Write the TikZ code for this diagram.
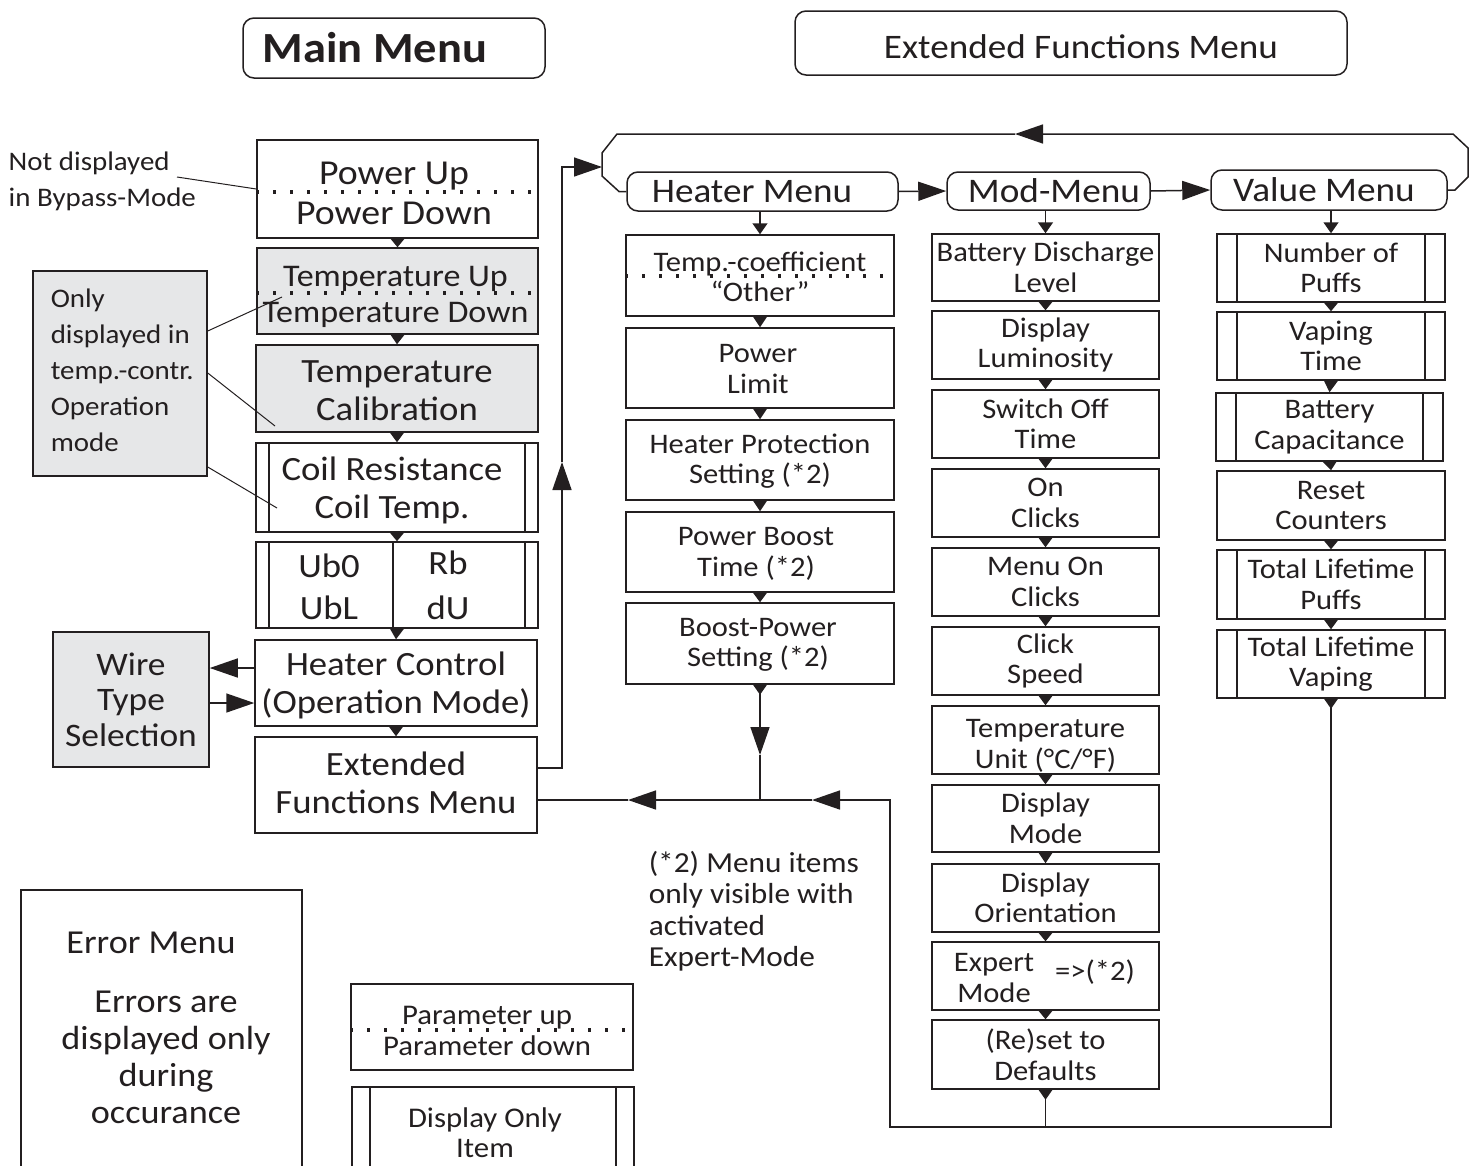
\documentclass[tikz,border=0pt]{standalone}
\usepackage{fontspec}
\setmainfont{Carlito}[FakeStretch=1.08]
\usetikzlibrary{arrows.meta,calc}
\definecolor{boxgray}{HTML}{E6E7E8}
\definecolor{ink}{HTML}{231F20}
\newcommand\fs[2]{\fontsize{#1}{#2}\selectfont}
\newcommand\ftri[2]{\fill[ink] ($(#1.south)+(-7,0)$) -- ($(#1.south)+(7,0)$) -- (#2.north) -- cycle;}
\newcommand\etri[1]{\fill[ink] ($(#1.south)+(-7,0)$) -- ($(#1.south)+(7,0)$) -- ($(#1.south)+(0,10)$) -- cycle;}
\begin{document}
\begin{tikzpicture}[x=1pt,y=-1pt,color=ink,line width=1.5pt,
  bx/.style={draw, inner sep=0pt, align=center},
  sz/.style 2 args={minimum width=#1pt, minimum height=#2pt},
  gr/.style={fill=boxgray},
  disp/.style={path picture={\draw[line width=1.3pt] ([xshift=#1pt]path picture bounding box.north west) -- ([xshift=#1pt]path picture bounding box.south west) ([xshift=-#1pt]path picture bounding box.north east) -- ([xshift=-#1pt]path picture bounding box.south east);}},
  hdr/.style={draw, rounded corners=11pt, inner sep=0pt, align=center},
  dots/.style={line width=3.2pt, dash pattern=on 3.2pt off 13.8pt},
  bigtip/.style={-{Triangle[width=19pt,length=28pt]}},
  smalltip/.style={-{Triangle[width=15pt,length=11pt]}},
  thin/.style={line width=1pt},
  mainf/.style={font=\fs{34}{38}},
  colf/.style={font=\fs{28.3}{30.5}},
  txt/.style={inner sep=0pt, align=center},
]
\useasboundingbox (0,0) rectangle (1480,1165);

% ---------- titles ----------
\node[hdr,sz={302}{60},font=\bfseries\fs{43}{46}] (mtitle) at (394,48) {Main Menu\hspace{38pt}};
\node[hdr,sz={552}{64}] (etitle) at (1071,43) {};
\node[txt,font=\fs{34.4}{36}] (etitlet) at (1081,47) {Extended Functions Menu};

% ---------- main column ----------
\node[bx,sz={281}{98}] (pu) at (397.5,189) {};
\draw[dots] (pu.west |- 0,192) -- (pu.east |- 0,192);
\node[txt,font=\fs{35}{40}] (put) at (394,193) {Power Up\\Power Down};
\node[bx,gr,sz={281}{86}] (td) at (397.5,291) {};
\draw[dots] (td.west |- 0,293) -- (td.east |- 0,293);
\node[txt,font=\fs{31.5}{36}] (tdt) at (395.5,297) {Temperature Up\\Temperature Down};
\node[bx,gr,sz={282}{87}] (tc) at (397,388.5) {};
\node[txt,mainf] (tct) at (397,391) {Temperature\\Calibration};
\node[bx,disp=13,sz={282}{89}] (coil) at (397,487.5) {};
\node[txt,mainf] (coilt) at (392,490) {Coil Resistance\\Coil Temp.};
\node[bx,disp=13,sz={282}{86}] (ub) at (397,585) {};
\draw (ub.north -| 393,0) -- (ub.south -| 393,0);
\node[font=\fs{34}{42},align=center] (ubl) at (329,587) {Ub0\\UbL};
\node[font=\fs{34}{45},align=center] (ubr) at (448,585) {Rb\\dU};
\node[bx,sz={282}{86}] (hc) at (396,683) {};
\node[txt,mainf] (hct) at (396,685) {Heater Control\\(Operation Mode)};
\node[bx,sz={282}{96}] (efm) at (396,785) {};
\node[txt,mainf] (efmt) at (396,783) {Extended\\Functions Menu};
\ftri{pu}{td}
\ftri{td}{tc}
\ftri{tc}{coil}
\ftri{coil}{ub}
\ftri{ub}{hc}
\ftri{hc}{efm}

% wire type
\node[bx,gr,sz={156}{135},font=\fs{32.8}{35.5}] (wire) at (131,699.5) {Wire\\Type\\Selection};
\draw[bigtip] (hc.west |- 0,668) -- (wire.east |- 0,668);
\draw[bigtip] (wire.east |- 0,703) -- (hc.west |- 0,703);

% annotations
\node[anchor=west,align=left,inner sep=0pt,font=\fs{26.8}{36}] (nd) at (8,181) {Not displayed\\in Bypass-Mode};
\draw[thin] (177,177) -- (pu.west |- 0,189);
\node[bx,gr,sz={174}{205}] (only) at (120,373.5) {};
\node[anchor=west,align=left,inner sep=0pt,font=\fs{26.8}{36}] (onlyt) at (50,370) {Only\\displayed in\\temp.-contr.\\Operation\\mode};
\draw[thin] (only.east |- 0,331) -- (282,297);
\draw[thin] (only.east |- 0,373) -- (275,426);
\draw[thin] (only.east |- 0,467) -- (277,508);

% ---------- headers of extended menu ----------
\node[hdr,sz={271}{39},font=\fs{34.4}{36}] (hm) at (762.5,191.5) {Heater Menu\hspace{21pt}};
\node[hdr,sz={203}{38},font=\fs{34.5}{36}] (mm) at (1048.5,191) {\hspace{11pt}Mod-Menu};
\node[hdr,sz={236}{40},font=\fs{34.5}{36}] (vm) at (1329,190) {Value Menu\hspace{10pt}};
\draw[bigtip] (hm.east) -- (mm.west);
\draw[bigtip] (mm.east) -- (vm.west);

% ---------- heater column ----------
\node[bx,sz={268}{81}] (tco) at (760,275.5) {};
\draw[dots] (tco.west |- 0,276) -- (tco.east |- 0,276);
\node[txt,colf] (tcot) at (760,277) {Temp.-coefficient\\“Other”};
\node[bx,sz={268}{80}] (pl) at (760,368) {};
\node[txt,colf] (plt) at (758,369) {Power\\Limit};
\node[bx,sz={268}{80}] (hps) at (760,460) {};
\node[txt,colf] (hpst) at (760,461) {Heater Protection\\Setting (*2)};
\node[bx,sz={268}{80}] (pbt) at (760,552) {};
\node[txt,colf] (pbtt) at (756,554) {Power Boost\\Time (*2)};
\node[bx,sz={268}{81}] (bps) at (760,643.5) {};
\node[txt,colf] (bpst) at (758,645) {Boost-Power\\Setting (*2)};
\draw[smalltip] (tco.north |- hm.south) -- (tco.north);
\ftri{tco}{pl}
\ftri{pl}{hps}
\ftri{hps}{pbt}
\ftri{pbt}{bps}

% ---------- mod column ----------
\node[bx,sz={227}{67},colf] (bdl) at (1045.5,267.5) {Battery Discharge\\Level};
\node[bx,sz={227}{68},colf] (dl) at (1045.5,345) {Display\\Luminosity};
\node[bx,sz={227}{68},colf] (sot) at (1045.5,424) {Switch Off\\Time};
\node[bx,sz={227}{68},colf] (onc) at (1045.5,503) {On\\Clicks};
\node[bx,sz={227}{68},colf] (moc) at (1045.5,582) {Menu On\\Clicks};
\node[bx,sz={227}{68},colf] (cs) at (1045.5,661) {Click\\Speed};
\node[bx,sz={227}{68}] (tu) at (1045.5,740) {};
\node[txt,colf] (tut) at (1045.5,746) {Temperature\\Unit (°C/°F)};
\node[bx,sz={227}{67},colf] (dm) at (1045.5,818.5) {Display\\Mode};
\node[bx,sz={227}{68},colf] (dor) at (1045.5,898) {Display\\Orientation};
\node[bx,sz={227}{68}] (exm) at (1045.5,976) {};
\node[colf,align=center] (exmt) at (994,978) {Expert\\Mode};
\node[colf] (exms) at (1095,972) {=>(*2)};
\node[bx,sz={227}{69},colf] (rd) at (1045.5,1054.5) {(Re)set to\\Defaults};
\draw[smalltip] (bdl.north |- mm.south) -- (bdl.north);
\ftri{bdl}{dl}
\ftri{dl}{sot}
\ftri{sot}{onc}
\ftri{onc}{moc}
\ftri{moc}{cs}
\ftri{cs}{tu}
\ftri{tu}{dm}
\ftri{dm}{dor}
\ftri{dor}{exm}
\ftri{exm}{rd}

% ---------- value column ----------
\node[bx,disp=20,sz={228}{68},colf] (nop) at (1331,268) {Number of\\Puffs};
\node[bx,disp=20,sz={228}{68},colf] (vt) at (1331,346) {Vaping\\Time};
\node[bx,disp=20,sz={227}{68},colf] (bc) at (1329.5,427) {Battery\\Capacitance};
\node[bx,sz={228}{69},colf] (rc) at (1331,505.5) {Reset\\Counters};
\node[bx,disp=20,sz={228}{69},colf] (tlp) at (1331,584.5) {Total Lifetime\\Puffs};
\node[bx,disp=20,sz={228}{68},colf] (tlv) at (1331,664) {Total Lifetime\\Vaping};
\draw[smalltip] (nop.north |- vm.south) -- (nop.north);
\ftri{nop}{vt}
\ftri{vt}{bc}
\ftri{bc}{rc}
\ftri{rc}{tlp}
\ftri{tlp}{tlv}

% ---------- loops ----------
\coordinate (jn) at (760,800);
\coordinate (dn) at (760,755);
\coordinate (ar1) at (812,800);
\coordinate (ar2) at (628,800);
\coordinate (bl) at (890,1127);
\coordinate (bl2) at (890,800);
\etri{bps}
\etri{tlv}
\etri{rd}
\draw[bigtip] (bps.south) -- (dn);
\draw (dn) -- (jn);
\draw[bigtip] (tlv.south) -- (tlv.south |- bl) -- (bl) -- (bl2) -- (ar1);
\draw (ar1) -- (jn);
\draw[bigtip] (jn) -- (ar2);
\draw (ar2) -- (efm.east |- jn);
\draw (rd.south) -- (rd.south |- bl);

\coordinate (c1) at (562,768);
\coordinate (up) at (562,462);
\coordinate (c2) at (562,167);
\coordinate (br) at (602,167);
\coordinate (top) at (1015,134);
\draw[bigtip] (efm.east |- c1) -- (c1) -- (up);
\draw[bigtip] (up) -- (c2) -- (br);
\draw (hm.west) -- (619,191.5) -- (602,176) -- (602,153) -- (617,134) -- (top);
\draw[bigtip] (vm.east) -- (1455,190) -- (1468,177) -- (1468,148) -- (1453,134) -- (top);

% ---------- note ----------
\node[anchor=west,align=left,inner sep=0pt,font=\fs{29}{31.5}] (note) at (648,911) {(*2) Menu items\\only visible with\\activated\\Expert-Mode};

% ---------- error menu ----------
\node[bx,sz={281}{300}] (errbox) at (161.5,1040) {};
\node[font=\fs{33.5}{37}] (errt) at (151,943) {Error Menu};
\node[align=center,font=\fs{33.5}{37}] (errd) at (166,1057) {Errors are\\displayed only\\during\\occurance};

% ---------- legend ----------
\node[bx,sz={282}{86}] (pud) at (492,1027) {};
\draw[dots] (pud.west |- 0,1030) -- (pud.east |- 0,1030);
\node[txt,font=\fs{28.5}{31}] (pudt) at (487,1031) {Parameter up\\Parameter down};
\node[bx,disp=18,sz={282}{110}] (dio) at (493,1142) {};
\node[align=center,font=\fs{28.5}{30}] (diot) at (485,1133) {Display Only\\Item};
\end{tikzpicture}
\end{document}
